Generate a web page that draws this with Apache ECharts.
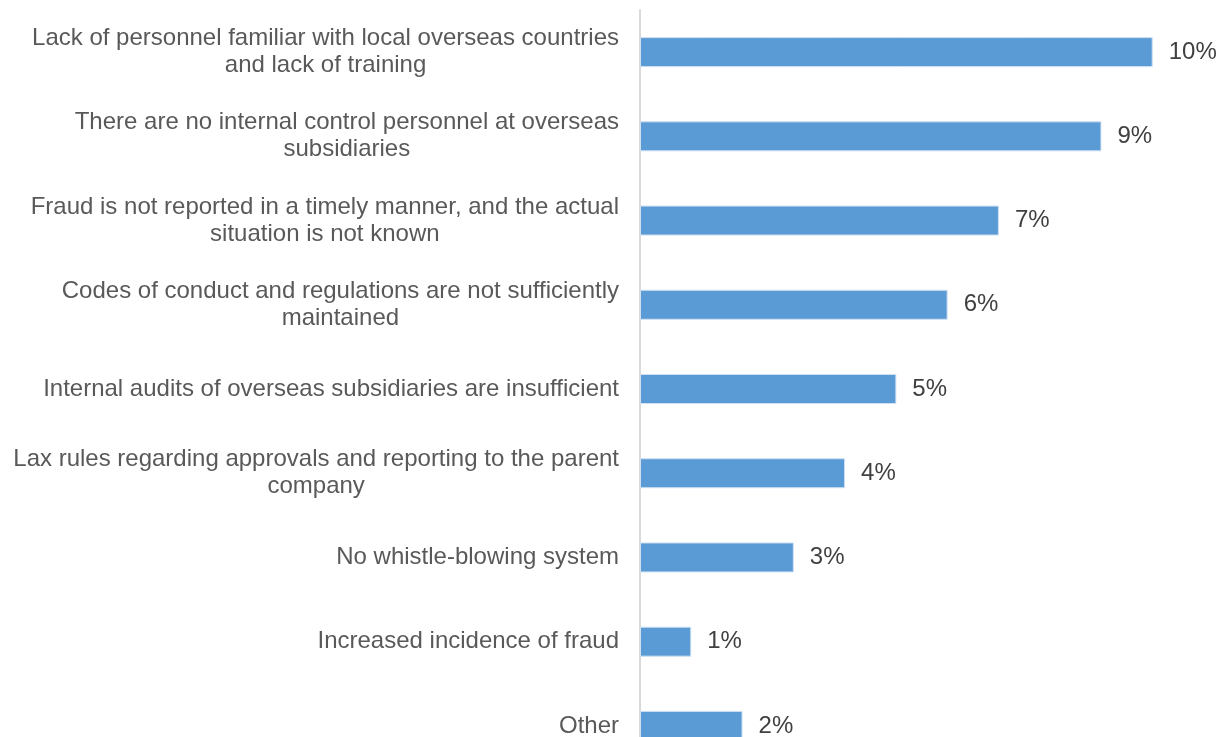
<!DOCTYPE html>
<html><head><meta charset="utf-8">
<style>html,body{margin:0;padding:0;background:#fff;overflow:hidden;width:1218px;height:737px}#c{width:1218px;height:768px}</style>
<script src="https://cdn.jsdelivr.net/npm/echarts@6/dist/echarts.min.js"></script>
</head><body><div id="c"></div>
<script>
const categories = [
  "Lack of personnel familiar with local overseas countries\nand lack of training",
  "There are no internal control personnel at overseas\nsubsidiaries",
  "Fraud is not reported in a timely manner, and the actual\nsituation is not known",
  "Codes of conduct and regulations are not sufficiently\nmaintained",
  "Internal audits of overseas subsidiaries are insufficient",
  "Lax rules regarding approvals and reporting to the parent\ncompany",
  "No whistle-blowing system",
  "Increased incidence of fraud",
  "Other"
];
const values = [10, 9, 7, 6, 5, 4, 3, 1, 2];

const FONT = 'Liberation Sans, Arial, sans-serif';
const chart = echarts.init(document.getElementById('c'), null, {renderer: 'canvas'});
chart.setOption({
  animation: false,
  grid: {left: 640, right: 14, top: 10, bottom: 0, containLabel: false},
  xAxis: {type: 'value', min: 0, max: 11, show: false},
  yAxis: {
    type: 'category', data: categories, inverse: true,
    axisLine: {show: true, lineStyle: {color: '#d9d9d9', width: 2}},
    axisTick: {show: false},
    axisLabel: {
      color: '#595959', fontFamily: FONT, fontSize: 24, lineHeight: 27, align: 'right', margin: 21,
      formatter: function (v) { return v.split('\n').map(function (s) { return '{c|' + s + '}'; }).join('\n'); },
      rich: {c: {align: 'center', color: '#595959', fontFamily: FONT, fontSize: 24, lineHeight: 27}}
    }
  },
  series: [{
    type: 'bar', data: values, barWidth: 30,
    itemStyle: {color: '#5b9bd5', borderColor: '#cfe0f2', borderWidth: 1},
    label: {show: true, position: 'right', distance: 16, formatter: '{c}%', color: '#404040', fontFamily: FONT, fontSize: 24}
  }]
});
</script></body></html>
